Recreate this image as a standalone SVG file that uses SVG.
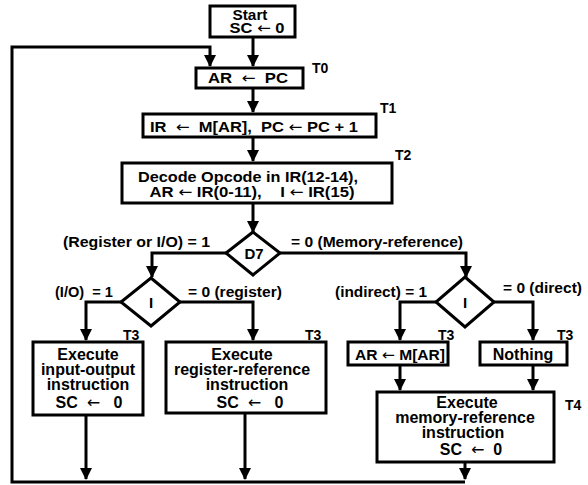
<svg xmlns="http://www.w3.org/2000/svg" width="588" height="485" viewBox="0 0 588 485">
<style>
text { font-family: "Liberation Sans", Arial, sans-serif; font-weight: bold; font-size: 15px; fill: #000; white-space: pre; }
.c { text-anchor: middle; }
.t { font-size: 14px; }
.b { font-size: 16px; }
.a { font-family: "DejaVu Sans", sans-serif; font-weight: normal; }
.box { fill: #fff; stroke: #000; stroke-width: 3; }
.conn { fill: none; stroke: #000; stroke-width: 3; }
</style>
<defs>
<marker id="ah" markerUnits="userSpaceOnUse" markerWidth="12" markerHeight="12" refX="11" refY="6" orient="auto" viewBox="0 0 12 12">
<path d="M0,0 L12,6 L0,12 z" fill="#000"/>
</marker>
</defs>
<rect width="588" height="485" fill="#fff"/>
<g id="connectors">
<path class="conn" d="M253,37 L253,66" marker-end="url(#ah)"/>
<path class="conn" d="M465,482 L12,482 L12,47 L210,47 L210,66" marker-end="url(#ah)"/>
<path class="conn" d="M253,88 L253,112" marker-end="url(#ah)"/>
<path class="conn" d="M253,137 L253,161" marker-end="url(#ah)"/>
<path class="conn" d="M253,203 L253,232" marker-end="url(#ah)"/>
<path class="conn" d="M226,253 L152,253 L152,277" marker-end="url(#ah)"/>
<path class="conn" d="M280,253 L466,253 L466,277" marker-end="url(#ah)"/>
<path class="conn" d="M121,302 L86,302 L86,340" marker-end="url(#ah)"/>
<path class="conn" d="M180,302 L253,302 L253,340" marker-end="url(#ah)"/>
<path class="conn" d="M436,302 L400,302 L400,340" marker-end="url(#ah)"/>
<path class="conn" d="M494,302 L533,302 L533,340" marker-end="url(#ah)"/>
<path class="conn" d="M86,415 L86,479" marker-end="url(#ah)"/>
<path class="conn" d="M245,413 L245,479" marker-end="url(#ah)"/>
<path class="conn" d="M400,365 L400,390" marker-end="url(#ah)"/>
<path class="conn" d="M533,365 L533,390" marker-end="url(#ah)"/>
<path class="conn" d="M465,462 L465,479" marker-end="url(#ah)"/>
</g>
<g id="start">
<rect class="box" x="210" y="6" width="85" height="31"/>
<text class="c" x="250" y="20" textLength="35" lengthAdjust="spacingAndGlyphs">Start</text>
<text class="c" x="257" y="33" textLength="55" lengthAdjust="spacingAndGlyphs">SC <tspan class="a">←</tspan> 0</text>
</g>
<g id="t0">
<rect class="box" x="196" y="68" width="107" height="20"/>
<text class="c" x="248" y="83" textLength="80" lengthAdjust="spacingAndGlyphs">AR  <tspan class="a">←</tspan>  PC</text>
<text class="t" x="312" y="73">T0</text>
</g>
<g id="t1">
<rect class="box" x="143" y="114" width="233" height="23"/>
<text class="c" x="254" y="132" textLength="208" lengthAdjust="spacingAndGlyphs">IR  <tspan class="a">←</tspan>  M[AR],  PC <tspan class="a">←</tspan> PC + 1</text>
<text class="t" x="380" y="113">T1</text>
</g>
<g id="t2">
<rect class="box" x="122" y="163" width="270" height="40"/>
<text class="c" x="248" y="182" textLength="220" lengthAdjust="spacingAndGlyphs">Decode Opcode in IR(12-14),</text>
<text class="c" x="252" y="197" textLength="205" lengthAdjust="spacingAndGlyphs">AR <tspan class="a">←</tspan> IR(0-11),    I <tspan class="a">←</tspan> IR(15)</text>
<text class="t" x="395" y="160">T2</text>
</g>
<g id="d7">
<polygon class="box" points="253,232 280,253 253,275 226,253"/>
<text class="c" x="254" y="259">D7</text>
</g>
<g id="d7-labels">
<text x="63" y="247" textLength="147" lengthAdjust="spacingAndGlyphs">(Register or I/O) = 1</text>
<text x="291" y="247" textLength="172" lengthAdjust="spacingAndGlyphs">= 0 (Memory-reference)</text>
</g>
<g id="i-left">
<polygon class="box" points="151,278 180,302 151,326 121,302"/>
<text class="c" x="151" y="308">I</text>
<text x="55" y="297" textLength="58" lengthAdjust="spacingAndGlyphs">(I/O)  = 1</text>
<text x="188" y="297" textLength="94" lengthAdjust="spacingAndGlyphs">= 0 (register)</text>
</g>
<g id="i-right">
<polygon class="box" points="465,277 494,302 465,327 436,302"/>
<text class="c" x="465" y="308">I</text>
<text x="335" y="297" textLength="92" lengthAdjust="spacingAndGlyphs">(indirect) = 1</text>
<text x="503" y="293" textLength="79" lengthAdjust="spacingAndGlyphs">= 0 (direct)</text>
</g>
<g id="io">
<rect class="box" x="33" y="342" width="110" height="73"/>
<text class="c b" x="88" y="360">Execute</text>
<text class="c b" x="88" y="375">input-output</text>
<text class="c b" x="88" y="390">instruction</text>
<text class="c b" x="89" y="408">SC  <tspan class="a">←</tspan>   0</text>
<text class="t" x="123" y="340">T3</text>
</g>
<g id="reg">
<rect class="box" x="166" y="342" width="160" height="71"/>
<text class="c b" x="242" y="360">Execute</text>
<text class="c b" x="242" y="375">register-reference</text>
<text class="c b" x="247" y="390">instruction</text>
<text class="c b" x="250" y="408">SC  <tspan class="a">←</tspan>   0</text>
<text class="t" x="305" y="340">T3</text>
</g>
<g id="indirect">
<rect class="box" x="348" y="342" width="100" height="23"/>
<text class="c" x="400" y="360" textLength="90" lengthAdjust="spacingAndGlyphs">AR <tspan class="a">←</tspan> M[AR]</text>
<text class="t" x="438" y="340">T3</text>
</g>
<g id="nothing">
<rect class="box" x="480" y="342" width="87" height="23"/>
<text class="c b" x="523" y="360">Nothing</text>
<text class="t" x="557" y="340">T3</text>
</g>
<g id="mem">
<rect class="box" x="377" y="392" width="177" height="70"/>
<text class="c b" x="467" y="408">Execute</text>
<text class="c b" x="465" y="423">memory-reference</text>
<text class="c b" x="463" y="438">instruction</text>
<text class="c b" x="471" y="455">SC  <tspan class="a">←</tspan>  0</text>
<text class="t" x="565" y="410">T4</text>
</g>
</svg>
